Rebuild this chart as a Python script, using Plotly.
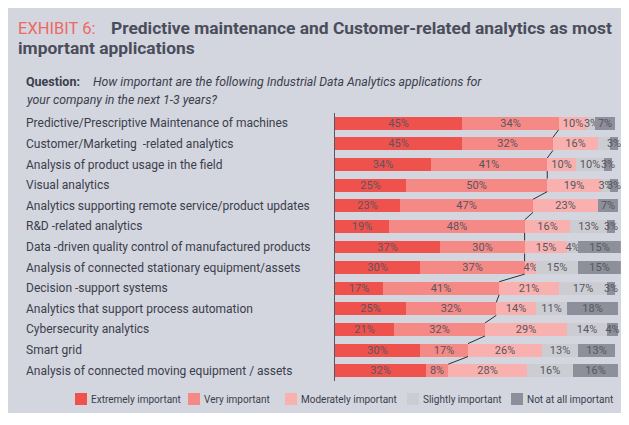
import plotly.graph_objects as go

categories = [
    "Predictive/Prescriptive Maintenance of machines",
    "Customer/Marketing  -related analytics",
    "Analysis of product usage in the field",
    "Visual analytics",
    "Analytics supporting remote service/product updates",
    "R&D -related analytics",
    "Data -driven quality control of manufactured products",
    "Analysis of connected stationary equipment/assets",
    "Decision -support systems",
    "Analytics that support process automation",
    "Cybersecurity analytics",
    "Smart grid",
    "Analysis of connected moving equipment / assets",
]
series_names = ["Extremely important", "Very important", "Moderately important",
                "Slightly important", "Not at all important"]
extremely = [45, 45, 34, 25, 23, 19, 37, 30, 17, 25, 21, 30, 32]
very = [34, 32, 41, 50, 47, 48, 30, 37, 41, 32, 32, 17, 8]
moderately = [10, 16, 10, 19, 23, 16, 15, 4, 21, 14, 29, 26, 28]
slightly = [3, 4, 10, 3, 0, 13, 4, 15, 17, 11, 14, 13, 16]
not_at_all = [7, 3, 3, 3, 7, 3, 15, 15, 3, 18, 4, 13, 16]
# labels that are not printed in the original
hidden_labels = {("Slightly important", 1), ("Slightly important", 4)}

series_values = [extremely, very, moderately, slightly, not_at_all]
colors = ["#ef524c", "#f48985", "#f8b1ae", "#cbcdd3", "#8d8f9a"]

# the page body adds an 8px margin on every side; figure fills the visible area
OFF = 8
W, H = 629 - 2 * OFF, 413 - OFF
def px(x): return (x - OFF) / W
def py(y): return 1 - (y - OFF) / H

FONT = "Roboto"
TXT = "#3b3e4b"

XMAX = 101
X0_PX, PX_PER_PCT = 335, 2.83

fig = go.Figure()
ypos = list(range(len(categories)))
for name, vals, col in zip(series_names, series_values, colors):
    texts = ["" if (name, i) in hidden_labels or v == 0 else f"{v}%" for i, v in enumerate(vals)]
    fig.add_trace(go.Bar(
        y=ypos, x=vals, orientation="h", name=name, marker=dict(color=col, line=dict(width=0)),
        width=0.63, text=texts, textposition="inside", insidetextanchor="middle", textangle=0,
        textfont=dict(family=FONT, size=11, color="#5a5560"), showlegend=False,
        cliponaxis=False,
    ))

# connector line between the end of "Very important" segments
bw = 0.63 / 2
cum = [e + v for e, v in zip(extremely, very)]
lx, ly = [], []
for i in range(len(cum) - 1):
    lx += [cum[i], cum[i + 1], None]
    ly += [i + bw, i + 1 - bw, None]
fig.add_trace(go.Scatter(x=lx, y=ly, mode="lines", line=dict(color="#2f3038", width=1),
                         showlegend=False, hoverinfo="skip"))

annotations = []
for i, c in enumerate(categories):
    annotations.append(dict(text=c, x=px(24), xref="paper", y=i, yref="y", xanchor="left",
                            yanchor="middle", showarrow=False,
                            font=dict(family=FONT, size=12, color=TXT)))

def ann(text, x, y, size, color=TXT):
    annotations.append(dict(text=text, x=px(x), y=py(y), xref="paper", yref="paper",
                            xanchor="left", yanchor="middle", showarrow=False,
                            font=dict(family=FONT, size=size, color=color)))

ann("EXHIBIT 6:", 16, 28, 16.5, "#ec6a63")
ann("<b>Predictive maintenance and Customer-related analytics as most</b>", 109, 28, 17.4, "#4a4d5a")
ann("<b>important applications</b>", 16, 48, 17.4, "#4a4d5a")
ann("<b>Question:</b>", 24, 82, 12.5)
ann("<i>How important are the following Industrial Data Analytics applications for</i>", 91, 82, 12.3)
ann("<i>your company in the next 1-3 years?</i>", 24, 100, 12.3)

shapes = [dict(type="rect", xref="paper", yref="paper", x0=0, x1=1, y0=0, y1=1,
               fillcolor="#d3d5df", line=dict(width=0), layer="below")]

legend_x = [75, 188, 285, 407, 511]
for name, col, lxp in zip(series_names, colors, legend_x):
    shapes.append(dict(type="rect", xref="paper", yref="paper", x0=px(lxp), x1=px(lxp + 12),
                       y0=py(405), y1=py(393), fillcolor=col, line=dict(width=0)))
    ann(name, lxp + 14, 399, 10)

fig.update_layout(
    width=W, height=H, margin=dict(l=0, r=0, t=0, b=0),
    paper_bgcolor="white", plot_bgcolor="rgba(0,0,0,0)",
    barmode="stack", bargap=0,
    uniformtext=dict(minsize=11, mode="show"),
    xaxis=dict(domain=[px(X0_PX), px(X0_PX + PX_PER_PCT * XMAX)], range=[0, XMAX],
               visible=False, fixedrange=True),
    yaxis=dict(domain=[py(381), py(113)], range=[len(categories) - 0.5, -0.5],
               showticklabels=False, showgrid=False, zeroline=False,
               showline=True, linecolor="#555862", linewidth=1, ticks=""),
    annotations=annotations, shapes=shapes, showlegend=False,
)
fig.write_html("out.html")
